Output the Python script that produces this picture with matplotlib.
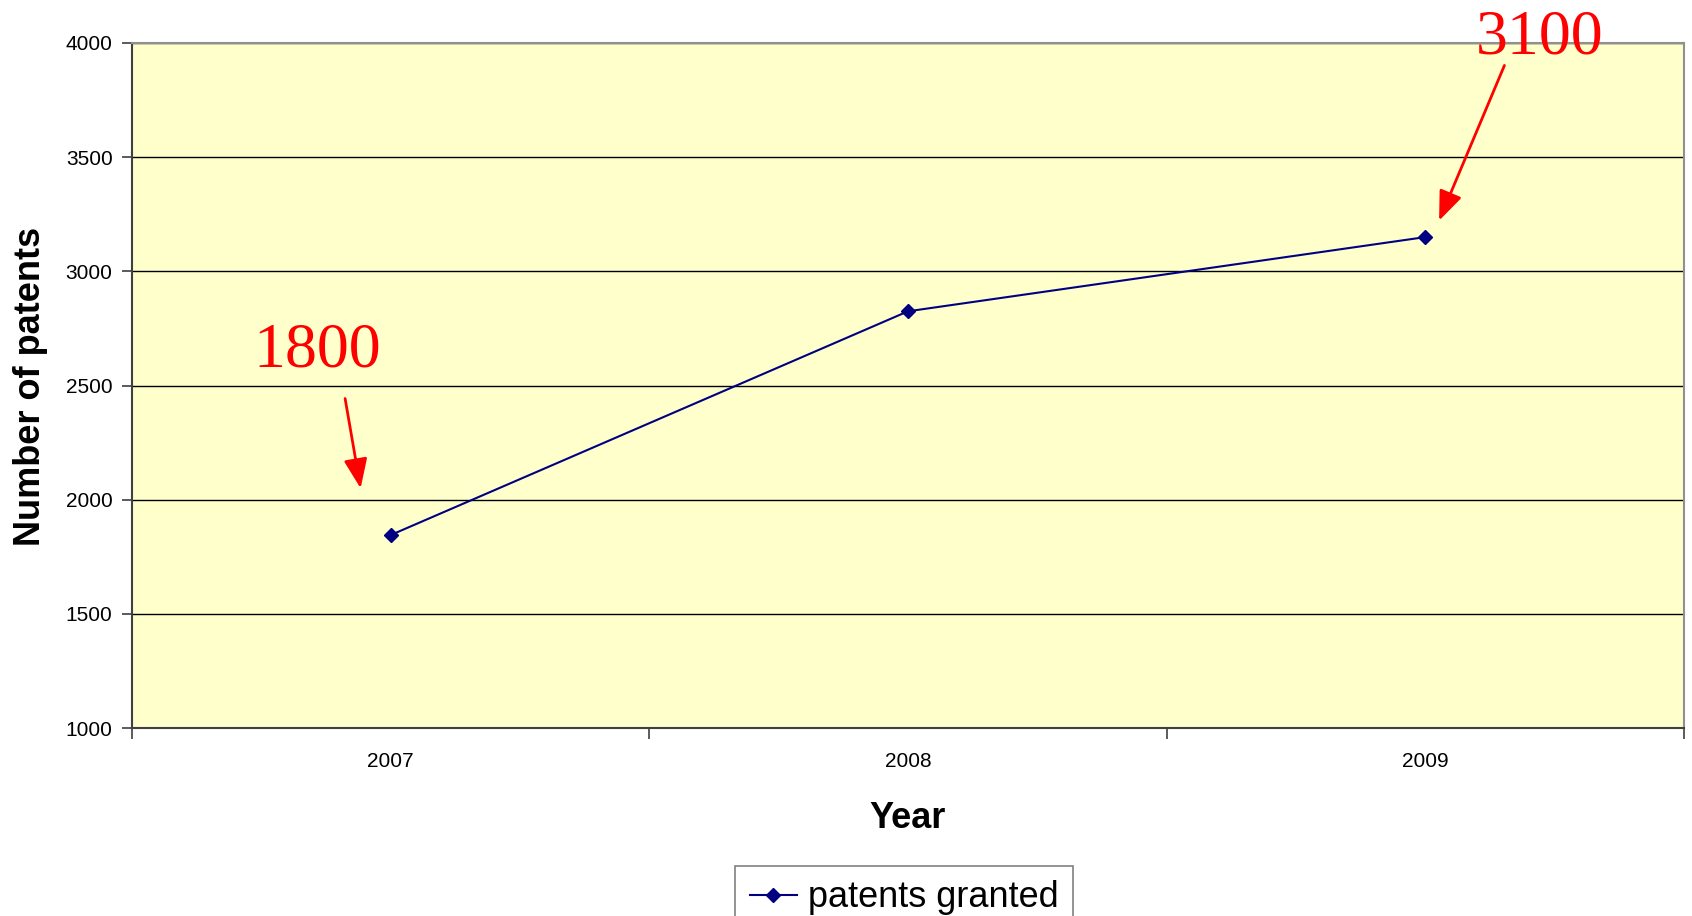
import matplotlib
matplotlib.use("Agg")
import matplotlib.pyplot as plt

years = ["2007", "2008", "2009"]
patents = [1845, 2825, 3150]
series_label = "patents granted"
ann_labels = ["1800", "3100"]
y_ticks = [1000, 1500, 2000, 2500, 3000, 3500, 4000]

plt.rcParams['font.family'] = ['Liberation Sans', 'DejaVu Sans']

W, H = 1692, 916
fig = plt.figure(figsize=(W / 100, H / 100), dpi=100)
L, R, T, B = 132, 1684, 43, 728
ax = fig.add_axes([L / W, 1 - B / H, (R - L) / W, (B - T) / H])
ax.set_facecolor('#FFFFCC')

x = list(range(len(years)))
line, = ax.plot(x, patents, color='#000080', lw=1.5, marker='D', ms=7.5,
                label=series_label, zorder=3)

ax.set_xlim(-0.5, len(years) - 0.5)
ax.set_ylim(min(y_ticks), max(y_ticks))
ax.set_yticks(y_ticks)
ax.set_yticklabels([str(v) for v in y_ticks], fontsize=15)
ax.yaxis.grid(True, color='black', lw=1)
ax.set_axisbelow(True)

# category boundaries ticks, labels at centers
ax.set_xticks([i - 0.5 for i in range(len(years) + 1)])
ax.set_xticklabels([])
ax.set_xticks(x, minor=True)
ax.set_xticklabels(years, minor=True, fontsize=15)
ax.tick_params(axis='x', which='minor', length=0, pad=17)
ax.tick_params(axis='x', which='major', length=8, color='#404040', width=1.2)
ax.tick_params(axis='y', length=7, color='#404040', width=1.2, pad=7)

for s in ['left', 'bottom']:
    ax.spines[s].set_color('#404040')
    ax.spines[s].set_linewidth(1.5)
for s in ['top', 'right']:
    ax.spines[s].set_color('#909090')
    ax.spines[s].set_linewidth(1.5)

fig.text(908 / W, 1 - 818 / H, "Year", fontsize=26, fontweight='bold',
         ha='center', va='center')
fig.text(30 / W, 1 - 386 / H, "Number of patents", fontsize=26,
         fontweight='bold', ha='center', va='center', rotation=90)

# annotations
arrow_style = dict(arrowstyle='-|>,head_length=0.45,head_width=0.18',
                   color='red', lw=2, mutation_scale=40)
ax.annotate("", xy=(0.1476, 0.346), xytext=(0.137, 0.485),
            xycoords='axes fraction', textcoords='axes fraction',
            arrowprops=arrow_style)
ax.text(0.119, 0.550, ann_labels[0], transform=ax.transAxes, fontsize=46,
        color='red', family='Liberation Serif', ha='center', va='center')
ax.annotate("", xy=(0.8415, 0.737), xytext=(0.885, 0.971),
            xycoords='axes fraction', textcoords='axes fraction',
            arrowprops=arrow_style)
ax.text(0.907, 1.006, ann_labels[1], transform=ax.transAxes, fontsize=46,
        color='red', family='Liberation Serif', ha='center', va='center',
        clip_on=False)

leg = fig.legend(handles=[line], loc='upper center',
                 bbox_to_anchor=(904 / W, 1 - 866 / H), fontsize=26,
                 frameon=True, fancybox=False, handlelength=1.3,
                 handletextpad=0.3, borderpad=0.4, borderaxespad=0)
leg.get_frame().set_edgecolor('#606060')
leg.get_frame().set_linewidth(1.2)

fig.savefig("out.png", dpi=100)
